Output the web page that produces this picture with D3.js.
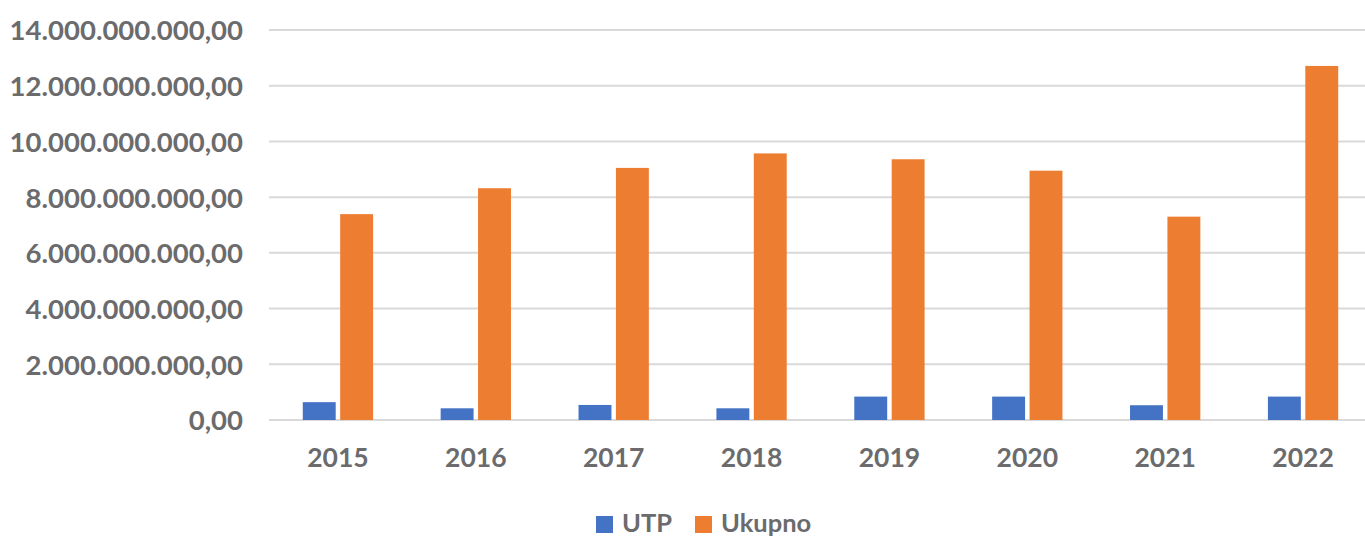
<!DOCTYPE html>
<html>
<head>
<meta charset="utf-8">
<script src="https://cdn.jsdelivr.net/npm/d3@7"></script>
<style>
  html, body { margin: 0; padding: 0; background: #fff; }
  svg text { font-family: Lato, "Open Sans", sans-serif; font-weight: 700; fill: #6b6b6d; }
</style>
</head>
<body>
<svg id="chart" width="1365" height="538"></svg>
<script>
const years = ["2015", "2016", "2017", "2018", "2019", "2020", "2021", "2022"];
const utp = [0.64e9, 0.42e9, 0.54e9, 0.42e9, 0.84e9, 0.84e9, 0.53e9, 0.84e9];
const ukupno = [7.39e9, 8.32e9, 9.05e9, 9.57e9, 9.36e9, 8.95e9, 7.30e9, 12.71e9];
const yTicks = [0, 2e9, 4e9, 6e9, 8e9, 10e9, 12e9, 14e9];
const seriesNames = ["UTP", "Ukupno"];
const colors = ["#4472C4", "#ED7D31"];

const svg = d3.select("#chart");

const locale = d3.formatLocale({ decimal: ",", thousands: ".", grouping: [3], currency: ["", ""] });
const fmt = locale.format(",.2f");

const x0 = d3.scaleBand().domain(years).range([269, 1372]).paddingInner(0.49).paddingOuter(0.245);
const x1 = d3.scaleBand().domain(seriesNames).range([0, x0.bandwidth()]).paddingInner(0.12);
const y = d3.scaleLinear().domain([0, 14e9]).range([420, 30]);

// gridlines
svg.append("g")
  .selectAll("line")
  .data(yTicks)
  .join("line")
  .attr("x1", 269)
  .attr("x2", 1365)
  .attr("y1", d => y(d))
  .attr("y2", d => y(d))
  .attr("stroke", "#d9d9d9")
  .attr("stroke-width", 2);

// y labels
const yAxis = d3.axisLeft(y).tickValues(yTicks).tickFormat(fmt).tickSize(0).tickPadding(0);
const ya = svg.append("g").attr("transform", "translate(243,0)").call(yAxis);
ya.select(".domain").remove();
ya.selectAll("text").attr("font-size", 27.5).attr("dy", "0.36em").style("font-family", null);

// bars
const rows = years.map((yr, i) => ({ year: yr, values: [utp[i], ukupno[i]] }));
svg.append("g")
  .selectAll("g")
  .data(rows)
  .join("g")
  .attr("transform", d => `translate(${x0(d.year)},0)`)
  .selectAll("rect")
  .data(d => d.values.map((v, k) => ({ key: seriesNames[k], v, k })))
  .join("rect")
  .attr("x", d => x1(d.key))
  .attr("width", x1.bandwidth())
  .attr("y", d => y(d.v))
  .attr("height", d => y(0) - y(d.v))
  .attr("fill", d => colors[d.k]);

// x labels
const xAxis = d3.axisBottom(x0).tickSize(0).tickPadding(0);
const xa = svg.append("g").attr("transform", "translate(0,467)").call(xAxis);
xa.select(".domain").remove();
xa.selectAll("text").attr("font-size", 26.5).attr("dy", 0).style("font-family", null);

// legend
const legendX = [596, 695];
const lg = svg.append("g")
  .selectAll("g")
  .data(seriesNames)
  .join("g")
  .attr("transform", (d, i) => `translate(${legendX[i]},516)`);
lg.append("rect").attr("width", 17).attr("height", 17).attr("fill", (d, i) => colors[i]);
lg.append("text").attr("x", 26).attr("y", 16).attr("font-size", 25.5).text(d => d);
</script>
</body>
</html>
